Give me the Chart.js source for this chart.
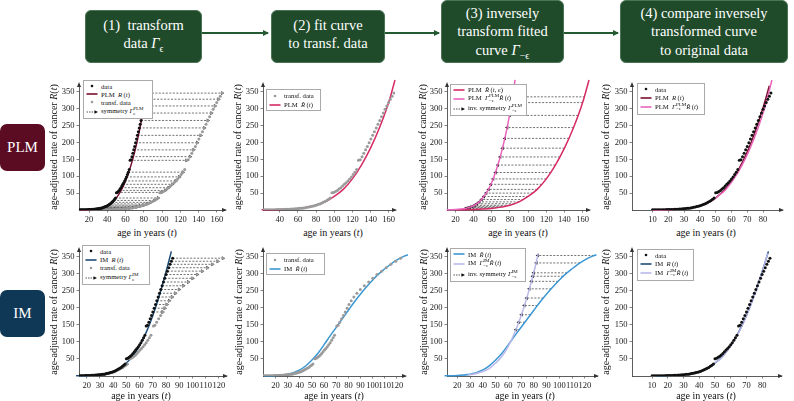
<!DOCTYPE html>
<html>
<head>
<meta charset="utf-8">
<title>Symmetry of cancer incidence curves</title>
<script src="https://cdn.jsdelivr.net/npm/chart.js@4.4.1/dist/chart.umd.min.js"></script>
<style>
  body { margin: 0; background: #fff; font-family: "Liberation Serif", "Times New Roman", Times, "DejaVu Serif", serif; }
  #page { position: relative; width: 794px; height: 401px; overflow: hidden; }
  .step { position: absolute; background: #1f4b2b; color: #fff; border-radius: 6px; border: 1px solid #4a7454; box-sizing: border-box;
          display: flex; align-items: center; justify-content: center; text-align: center; font-size: 14.5px; line-height: 18.5px; }
  .step sub { font-size: 10px; line-height: 0; }
  .row { position: absolute; left: 0; width: 45px; height: 47px; border-radius: 7px; color: #fff; font-size: 15px;
         display: flex; align-items: center; justify-content: center; }
  canvas { position: absolute; }
  .xt, .yt { position: absolute; font-size: 10px; white-space: nowrap; color: #111; }
  .xt { transform: translate(-50%, -50%); }
  .yt { transform: translate(-50%, -50%) rotate(-90deg); }
  .leg { position: absolute; background: #fff; border: 0.7px solid #aaa; font-size: 6.7px; padding: 1px 3px 1px 2px; box-sizing: border-box;
         display: flex; flex-direction: column; justify-content: space-around; white-space: nowrap; color: #111; }
  .leg div { display: flex; align-items: center; }
  .leg svg { width: 12px; height: 6px; margin-right: 3px; flex: none; }
  .ss { display: inline-flex; flex-direction: column; font-size: 0.75em; line-height: 0.95; vertical-align: middle; }
</style>
</head>
<body>
<div id="page">
  <svg width="794" height="70" style="position:absolute;left:0;top:0">
    <defs><marker id="ah" markerWidth="6" markerHeight="6" refX="5" refY="3" orient="auto" markerUnits="userSpaceOnUse">
      <path d="M0,0 L6,3 L0,6 Z" fill="#245a31"/></marker></defs>
    <line x1="202" y1="33" x2="268" y2="33" stroke="#245a31" stroke-width="2" marker-end="url(#ah)"/>
    <line x1="385" y1="33" x2="439" y2="33" stroke="#245a31" stroke-width="2" marker-end="url(#ah)"/>
    <line x1="564" y1="33" x2="618" y2="33" stroke="#245a31" stroke-width="2" marker-end="url(#ah)"/>
  </svg>
  <div class="step" style="left:85px;top:10px;width:117px;height:53px;padding-bottom:5px"><div>(1)&nbsp; transform<br>data <i>Γ</i><sub>ϵ</sub></div></div>
  <div class="step" style="left:271px;top:10px;width:114px;height:53px;padding-bottom:5px"><div>(2) fit curve<br>to transf. data</div></div>
  <div class="step" style="left:441px;top:0px;width:123px;height:63px"><div>(3) inversely<br>transform fitted<br>curve <i>Γ</i><sub>−ϵ</sub></div></div>
  <div class="step" style="left:620px;top:0px;width:168px;height:63px"><div>(4) compare inversely<br>transformed curve<br>to original data</div></div>
  <div class="row" style="top:124px;background:#5b0b22">PLM</div>
  <div class="row" style="top:290px;background:#0f3756">IM</div>
</div>
<script>
// observed data: age-adjusted rate of cancer per year of age
const ages = [10, 11, 12, 13, 14, 15, 16, 17, 18, 19, 20, 21, 22, 23, 24, 25, 26, 27, 28, 29,
  30, 31, 32, 33, 34, 35, 36, 37, 38, 39, 40, 41, 42, 43, 44, 45, 46, 47, 48, 49,
  50, 51, 52, 53, 54, 55, 56, 57, 58, 59, 60, 61, 62, 63, 64, 65, 66, 67, 68, 69,
  70, 71, 72, 73, 74, 75, 76, 77, 78, 79, 80, 81, 82, 83, 84, 85];
const rates = [0.4, 0.5, 0.6, 0.6, 0.7, 0.8, 0.9, 1.0, 1.1, 1.2, 1.3, 1.5, 1.6, 1.8, 2.0, 2.2, 2.5, 2.8, 3.1, 3.5,
  3.9, 4.4, 4.9, 5.5, 6.2, 7.0, 7.9, 8.9, 10.0, 11.3, 12.7, 14.3, 16.0, 18.0, 20.2, 22.6, 25.3, 28.3, 31.6, 35.5,
  51, 52, 55, 58, 62, 66, 71, 76, 81, 86, 92, 98, 105, 112, 120, 147, 149, 158, 168, 178,
  188, 199, 210, 221, 232, 243, 254, 265, 276, 287, 298, 308, 318, 328, 337, 346];

// transformed ages (same rates), PLM and IM symmetries
const plmTransfAges = [19.5, 21.5, 23.4, 25.4, 27.3, 29.3, 31.2, 33.2, 35.1, 37.1, 39, 41, 42.9, 44.9, 46.8, 48.8, 50.7, 52.7, 54.6, 56.6,
  58.5, 60.5, 62.4, 64.4, 66.3, 68.3, 70.2, 72.2, 74.1, 76.1, 78, 80, 81.9, 83.9, 85.8, 87.8, 89.7, 91.7, 93.6, 95.6,
  97.5, 99.5, 101.4, 103.4, 105.3, 107.3, 109.2, 111.2, 113.1, 115.1, 117, 119, 120.9, 122.9, 124.8, 126.8, 128.7, 130.7, 132.6, 134.6,
  136.5, 138.5, 140.4, 142.4, 144.3, 146.3, 148.2, 150.2, 152.1, 154.1, 156, 158, 159.9, 161.9, 163.8, 165.8];
const imTransfAges = [10, 11, 12, 13, 14, 15, 16, 17, 18.1, 19.1, 20.1, 21.1, 22.1, 23.1, 24.1, 25.1, 26.1, 27.1, 28.2, 29.2,
  30.2, 31.2, 32.2, 33.3, 34.3, 35.4, 36.4, 37.4, 38.5, 39.6, 40.6, 41.7, 42.8, 43.9, 45, 46.1, 47.3, 48.4, 49.6, 50.8,
  52.5, 53.6, 54.7, 55.8, 56.9, 58, 59.1, 60.3, 61.4, 62.6, 63.8, 65, 66.2, 67.4, 68.6, 70.4, 71.5, 72.9, 74.4, 75.9,
  77.4, 79, 80.5, 82.3, 84.5, 87, 89.8, 93.1, 96.7, 100.1, 103.5, 107.3, 111.1, 115, 119, 123];

// fitted curves, sampled
const plmFitAges = [10, 15, 20, 25, 30, 35, 40, 45, 50, 55, 60, 65, 70, 75, 80, 84];
const plmFitRates = [0.3, 0.7, 1.3, 2.4, 4.1, 7.5, 12.5, 21, 36, 57, 86, 124, 172, 232, 303, 368];
const plmHatAges = [20, 30, 40, 50, 60, 70, 80, 90, 100, 110, 120, 130, 140, 150, 160, 167];
const plmHatRates = [0.4, 0.8, 1.5, 2.7, 4.6, 8.5, 14, 24, 40, 61, 92, 133, 183, 244, 318, 385];
const plmInvAges = [10.3, 15.4, 20.5, 25.6, 30.8, 35.9, 41, 46.2, 51.3, 56.4, 61.5, 66.7, 71.8, 76.9, 82, 85.6];

const imFitAges = [12, 20, 30, 40, 45, 50, 55, 60, 65, 70, 75, 80, 84];
const imFitRates = [0.5, 1.5, 4, 13, 22, 38, 59, 89, 128, 178, 237, 306, 366];
const imHatAges = [10, 20, 30, 40, 45, 50, 55, 60, 65, 70, 75, 80, 85, 90, 95, 100, 105, 110, 115, 120, 126, 129];
const imHatRates = [0.5, 1.5, 5, 18, 30, 47, 67, 92, 118, 143, 168, 193, 218, 241, 262, 282, 300, 315, 329, 341, 352, 356];
const imInvAges = [28, 30, 40, 45, 50, 55, 60, 65, 70, 75, 80, 83.5];
const imInvRates = [2.5, 3.5, 13, 22, 38, 58, 88, 127, 177, 236, 305, 360];

// inverse symmetry arrows (rate level, age on fitted curve, age on inverse curve)
const plmInvArrowRates = [335, 318, 280, 244, 212, 183, 157, 133, 111, 92, 76, 61, 50, 40, 31, 24, 18.5, 14, 11, 8.5, 6.5, 4.6];
const plmInvArrowFrom = [162.5, 160, 155, 150, 145, 140, 135, 130, 125, 120, 115, 110, 105, 100, 95, 90, 85, 80, 75, 70, 65, 60];
const plmInvArrowTo = [83.3, 82, 79.5, 76.9, 74.4, 71.8, 69.2, 66.7, 64.1, 61.5, 59, 56.4, 53.8, 51.3, 48.7, 46.2, 43.6, 41, 38.5, 35.9, 33.3, 30.8];
const imInvArrowRates = [354, 332, 303, 293, 278, 256, 229, 207, 180, 158, 136];
const imInvArrowFrom = [127, 116, 106, 103, 99, 93.6, 87.4, 82.8, 77.4, 73, 68.6];
const imInvArrowTo = [83.1, 81.9, 79.9, 79.1, 78, 76.4, 74.4, 72.5, 70.3, 68.1, 65.9];

// tick labels
const rateTicks = [50, 100, 150, 200, 250, 300, 350];
const ticksWide = [20, 40, 60, 80, 100, 120, 140, 160];
const ticksWide2 = [40, 60, 80, 100, 120, 140, 160];
const ticksIM = [20, 30, 40, 50, 60, 70, 80, 90, 100, 110, 120];
const ticksData = [10, 20, 30, 40, 50, 60, 70, 80];

const plmDark = '#7a0e2e', plmHat = '#d62a63', plmInv = '#e865bb';
const imDark = '#1c4c78', imHat = '#3b97d3', imInv = '#b9b8e8';
const grey = '#9a9a9a', ink = '#111';

const page = document.getElementById('page');
Chart.defaults.font.family = '"Liberation Serif", "Times New Roman", Times, "DejaVu Serif", serif';

const pts = (xs, ys) => xs.map((x, i) => ({ x: x, y: ys[i] }));

function dots(xs, ys, color) {
  return { data: pts(xs, ys), showLine: false, pointRadius: 1.5, pointBackgroundColor: color, pointBorderWidth: 0, order: 0 };
}
function curve(xs, ys, color) {
  return { data: pts(xs, ys), showLine: true, borderColor: color, borderWidth: 1.5, pointRadius: 0,
           cubicInterpolationMode: 'monotone', clip: 10, order: 1 };
}
function arrows(from, to, lvl, dir) {
  const d = [];
  lvl.forEach((r, i) => { d.push({ x: from[i], y: r }, { x: to[i], y: r }, { x: to[i], y: null }); });
  return { data: d, showLine: true, spanGaps: false, borderColor: ink, borderWidth: 0.6, borderDash: [2, 1.5],
           pointStyle: 'triangle', pointRotation: dir > 0 ? 90 : -90, pointBackgroundColor: ink, pointBorderWidth: 0,
           pointRadius: ctx => (ctx.dataIndex % 3 === 1 ? 2.2 : 0), order: 2 };
}

const axisArrows = {
  id: 'axisArrows',
  afterDraw(chart) {
    const { ctx, chartArea: a } = chart;
    ctx.save();
    ctx.fillStyle = '#333';
    ctx.beginPath();
    ctx.moveTo(a.right + 2, a.bottom); ctx.lineTo(a.right - 3, a.bottom - 2); ctx.lineTo(a.right - 3, a.bottom + 2);
    ctx.fill();
    ctx.beginPath();
    ctx.moveTo(a.left, a.top - 2); ctx.lineTo(a.left - 2, a.top + 3); ctx.lineTo(a.left + 2, a.top + 3);
    ctx.fill();
    ctx.restore();
  }
};

const YW = 26, XH = 16, PT = 8, PR = 8;
function panel(b, xMin, xMax, xTicks, datasets) {
  const c = document.createElement('canvas');
  const w = b.x1 - b.x0 + YW + PR, h = b.y0 - b.yTop + PT + XH;
  c.width = w; c.height = h;
  c.style.left = (b.x0 - YW) + 'px'; c.style.top = (b.yTop - PT) + 'px';
  c.style.width = w + 'px'; c.style.height = h + 'px';
  page.appendChild(c);
  const axisStyle = {
    grid: { display: true, drawOnChartArea: false, drawTicks: true, tickLength: 2.5, color: '#333', lineWidth: 0.6 },
    border: { display: true, color: '#333', width: 0.8 },
    ticks: { font: { size: 8.5 }, color: '#222', padding: 2, maxRotation: 0, autoSkip: false }
  };
  new Chart(c, {
    type: 'scatter',
    data: { datasets: datasets },
    options: {
      responsive: false, animation: false,
      layout: { padding: { top: PT, right: PR, left: 0, bottom: 0 } },
      plugins: { legend: { display: false }, tooltip: { enabled: false } },
      scales: {
        x: Object.assign({ type: 'linear', min: xMin, max: xMax,
          afterBuildTicks: s => { s.ticks = xTicks.map(v => ({ value: v })); },
          afterFit: s => { s.height = XH; } }, axisStyle),
        y: Object.assign({ type: 'linear', min: 0, max: 373,
          afterBuildTicks: s => { s.ticks = rateTicks.map(v => ({ value: v })); },
          afterFit: s => { s.width = YW; } }, axisStyle)
      }
    },
    plugins: [axisArrows]
  });
}

function sym(kind, color) {
  if (kind === 'dot') return `<svg viewBox="0 0 12 6"><circle cx="6" cy="3" r="1.3" fill="${color}"/></svg>`;
  if (kind === 'line') return `<svg viewBox="0 0 12 6"><line x1="0.5" y1="3" x2="11.5" y2="3" stroke="${color}" stroke-width="1.6"/></svg>`;
  return `<svg viewBox="0 0 12 6"><line x1="0.5" y1="3" x2="9" y2="3" stroke="${ink}" stroke-width="0.7" stroke-dasharray="1.5 1"/><path d="M12 3 L8.5 1.3 L8.5 4.7 Z" fill="${ink}"/></svg>`;
}
function legend(x, y, w, h, items) {
  const d = document.createElement('div');
  d.className = 'leg';
  Object.assign(d.style, { left: x + 'px', top: y + 'px', width: w + 'px', height: h + 'px' });
  d.innerHTML = items.map(([k, c, t]) => `<div>${sym(k, c)}<span>${t}</span></div>`).join('');
  page.appendChild(d);
}
function titles(xc, xy, yc, yy) {
  const a = document.createElement('div');
  a.className = 'xt'; a.style.left = xc + 'px'; a.style.top = xy + 'px';
  a.innerHTML = 'age in years (<i>t</i>)';
  const b = document.createElement('div');
  b.className = 'yt'; b.style.left = yc + 'px'; b.style.top = yy + 'px';
  b.innerHTML = 'age-adjusted rate of cancer <i>R</i>(<i>t</i>)';
  page.appendChild(a); page.appendChild(b);
}
const gam = (m, s) => `<i>Γ</i><span class="ss"><span>${m}</span><span>${s}</span></span>`;
const R = '<i>R</i>&thinsp;(<i>t</i>)', Rh = '<i>R̂</i>&thinsp;(<i>t</i>)';

const every2 = ages.map((a, i) => i).filter(i => i % 2 === 1);
const late = ages.map((a, i) => i).filter(i => ages[i] >= 70);
const sub = (arr, idx) => idx.map(i => arr[i]);

// ---- PLM row ----
panel({ x0: 79, x1: 225, yTop: 84, y0: 210 }, 9, 169, ticksWide, [
  dots(ages, rates, ink), dots(plmTransfAges, rates, grey), curve(plmFitAges, plmFitRates, plmDark),
  arrows(sub(ages, every2), sub(plmTransfAges, every2), sub(rates, every2), 1)]);
panel({ x0: 263, x1: 395, yTop: 84, y0: 210 }, 21.5, 167, ticksWide2, [
  dots(plmTransfAges, rates, grey), curve(plmHatAges, plmHatRates, plmHat)]);
panel({ x0: 447, x1: 589, yTop: 84, y0: 210 }, 10.7, 167, ticksWide, [
  curve(plmInvAges, plmHatRates, plmInv), curve(plmHatAges, plmHatRates, plmHat),
  arrows(plmInvArrowFrom, plmInvArrowTo, plmInvArrowRates, -1)]);
panel({ x0: 632, x1: 782, yTop: 84, y0: 210 }, -3, 92, ticksData, [
  dots(ages, rates, ink), curve(plmInvAges, plmHatRates, plmInv), curve(plmFitAges, plmFitRates, plmDark)]);

// ---- IM row ----
panel({ x0: 79, x1: 226, yTop: 249, y0: 376 }, 14.2, 125.3, ticksIM, [
  dots(ages, rates, ink), dots(imTransfAges, rates, grey), curve(imFitAges, imFitRates, imDark),
  arrows(sub(ages, late), sub(imTransfAges, late), sub(rates, late), 1)]);
panel({ x0: 263, x1: 405, yTop: 249, y0: 376 }, 9.7, 126.6, ticksIM, [
  dots(imTransfAges, rates, grey), curve(imHatAges, imHatRates, imHat)]);
panel({ x0: 447, x1: 597, yTop: 249, y0: 376 }, 11.9, 129.5, ticksIM, [
  curve(imInvAges, imInvRates, imInv), curve(imHatAges, imHatRates, imHat),
  arrows(imInvArrowFrom, imInvArrowTo, imInvArrowRates, -1)]);
panel({ x0: 632, x1: 781, yTop: 249, y0: 376 }, -2.8, 92, ticksData, [
  dots(ages, rates, ink), curve(imInvAges, imInvRates, imInv), curve(imFitAges, imFitRates, imDark)]);

// axis titles
titles(147, 232, 53, 147); titles(333, 232, 237, 147); titles(518, 232, 422, 147); titles(706, 232, 605, 147);
titles(141, 395, 53, 312); titles(334, 395, 238, 312); titles(525, 395, 423, 312); titles(706, 395, 605, 312);

// legends
legend(83, 80, 70, 39, [['dot', ink, 'data'], ['line', plmDark, 'PLM&nbsp;&nbsp;' + R], ['dot', grey, 'transf. data'],
  ['arrow', ink, 'symmetry ' + gam('PLM', 'ϵ')]]);
legend(266, 89, 55, 22, [['dot', grey, 'transf. data'], ['line', plmHat, 'PLM&nbsp;&nbsp;' + Rh]]);
legend(450, 84, 77, 32, [['line', plmHat, 'PLM&nbsp;&nbsp;<i>R̂</i>&thinsp;(<i>t</i>, <i>ϵ</i>)'],
  ['line', plmInv, 'PLM&nbsp;&nbsp;' + gam('PLM', '−ϵ') + Rh], ['arrow', ink, 'inv. symmetry ' + gam('PLM', '−ϵ')]]);
legend(637, 83, 68, 32, [['dot', ink, 'data'], ['line', plmDark, 'PLM&nbsp;&nbsp;' + R],
  ['line', plmInv, 'PLM&nbsp;&nbsp;' + gam('PLM', '−ϵ') + Rh]]);
legend(82, 245, 68, 40, [['dot', ink, 'data'], ['line', imDark, 'IM&nbsp;&nbsp;' + R], ['dot', grey, 'transf. data'],
  ['arrow', ink, 'symmetry ' + gam('IM', 'ϵ')]]);
legend(266, 253, 59, 22, [['dot', grey, 'transf. data'], ['line', imHat, 'IM&nbsp;&nbsp;' + Rh]]);
legend(450, 248, 76, 34, [['line', imHat, 'IM&nbsp;&nbsp;' + Rh], ['line', imInv, 'IM&nbsp;&nbsp;' + gam('IM', '−ϵ') + Rh],
  ['arrow', ink, 'inv. symmetry ' + gam('IM', '−ϵ')]]);
legend(637, 249, 57, 32, [['dot', ink, 'data'], ['line', imDark, 'IM&nbsp;&nbsp;' + R],
  ['line', imInv, 'IM&nbsp;&nbsp;' + gam('IM', '−ϵ') + Rh]]);
</script>
</body>
</html>
